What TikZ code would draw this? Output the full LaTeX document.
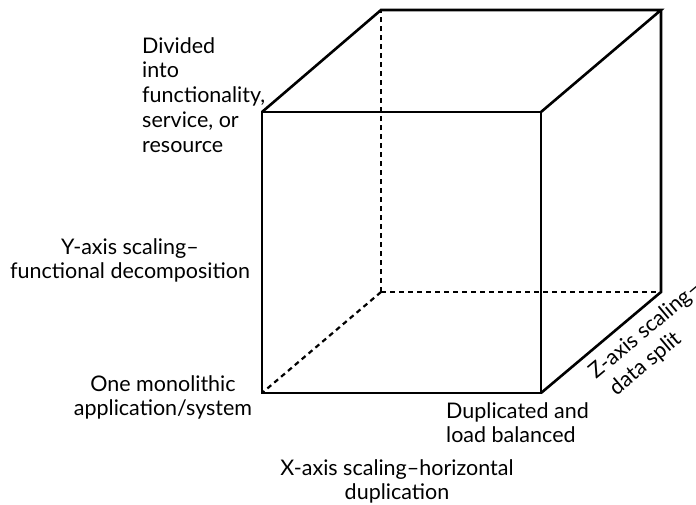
\documentclass[tikz,border=0pt]{standalone}
\usepackage{fontspec}
\setmainfont{Lato}
\begin{document}
\begin{tikzpicture}[x=1pt,y=-1pt,
  edge/.style={line width=2.6pt},
  hidden/.style={line width=2.2pt, dash pattern=on 5pt off 4pt},
  lbl/.style={inner sep=0pt, font=\fontsize{21.5}{24.8}\selectfont}]
\useasboundingbox (0,0) rectangle (696,504);
% front face
\coordinate (FTL) at (262,112);
\coordinate (FTR) at (541,112);
\coordinate (FBL) at (262,393);
\coordinate (FBR) at (541,393);
% back face
\coordinate (BTL) at (381,10);
\coordinate (BTR) at (661,10);
\coordinate (BBL) at (381,292);
\coordinate (BBR) at (661,292);
% hidden edges
\draw[hidden] (BBL) -- (BTL);
\draw[hidden] (BBL) -- (BBR);
\draw[hidden] (BBL) -- (FBL);
% visible edges
\draw[edge] (FTL) -- (FTR) -- (FBR) -- (FBL) -- cycle;
\draw[edge] (FTL) -- (BTL) -- (BTR) -- (FTR);
\draw[edge] (BTR) -- (BBR) -- (FBR);
% labels
\node[lbl, anchor=base west] (divided) at (142,53)
  {\begin{tabular}[t]{@{}l@{}}Divided\\into\\functionality,\\service, or\\resource\end{tabular}};
\node[lbl, anchor=base] (yaxis) at (130,254)
  {\begin{tabular}[t]{@{}c@{}}Y-axis scaling–\\functional decomposition\end{tabular}};
\node[lbl, anchor=base] (mono) at (163,391)
  {\begin{tabular}[t]{@{}c@{}}One monolithic\\application/system\end{tabular}};
\node[lbl, anchor=base west] (dup) at (446,418)
  {\begin{tabular}[t]{@{}l@{}}Duplicated and\\load balanced\end{tabular}};
\node[lbl, anchor=base] (xaxis) at (397,475)
  {\begin{tabular}[t]{@{}c@{}}X-axis scaling–horizontal\\duplication\end{tabular}};
\node[lbl, anchor=base west, rotate=40] (zaxis) at (596,380)
  {\begin{tabular}[t]{@{}l@{}}Z-axis scaling–\\[1pt]\hspace*{5pt}data split\end{tabular}};
\end{tikzpicture}
\end{document}
